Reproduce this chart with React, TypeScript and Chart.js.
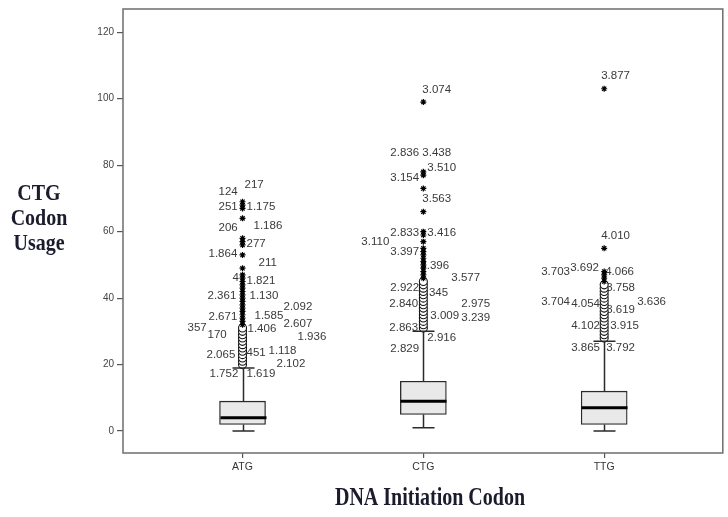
import React, { useEffect, useRef } from 'react';
import { Chart, registerables } from 'chart.js';

Chart.register(...registerables);

// ---- data ----
const categories = ['ATG', 'CTG', 'TTG'];
const categoryPositions = [1, 2, 3];
const yTicks = [0, 20, 40, 60, 80, 100, 120];

const lowerWhisker = [0, 1, 0];
const q1 = [2, 5, 2];
const median = [4, 9, 7];
const q3 = [9, 15, 12];
const upperWhisker = [19, 30, 27];

// mild outliers (circles) and extreme values (stars)
const atgOutliers = [20, 21, 22, 23, 24, 25, 26, 27, 28, 29, 30, 31];
const atgExtremes = [32, 33, 34, 35, 36, 37, 38, 39, 40, 41, 42, 43, 44, 45, 46, 47, 49, 53, 56, 57, 58, 64, 67, 68, 69];
const ctgOutliers = [31, 32, 33, 34, 35, 36, 37, 38, 39, 40, 41, 42, 43, 44, 45];
const ctgExtremes = [46, 47, 48, 49, 50, 51, 52, 53, 54, 55, 57, 59, 60, 66, 73, 77, 78, 99];
const ttgOutliers = [28, 29, 30, 31, 32, 33, 34, 35, 36, 37, 38, 39, 40, 41, 42, 43, 44];
const ttgExtremes = [45, 46, 47, 48, 55, 103];

// case-number labels beside the outliers
const atgLabelText = ['124', '217', '251', '1.175', '206', '1.186', '277', '1.864', '211', '4', '1.821', '2.361', '1.130', '2.092', '2.671', '1.585', '357', '2.607', '170', '1.406', '1.936', '2.065', '451', '1.118', '2.102', '1.752', '1.619'];
const atgLabelValue = [71.9, 74.0, 67.4, 67.4, 61.1, 61.7, 56.2, 53.2, 50.5, 46.0, 45.1, 40.6, 40.6, 37.3, 34.3, 34.6, 31.0, 32.2, 28.9, 30.7, 28.3, 22.9, 23.5, 24.1, 20.2, 17.1, 17.1];
const ctgLabelText = ['3.074', '2.836', '3.438', '3.510', '3.154', '3.563', '2.833', '3.416', '3.110', '3.397', '3.396', '3.577', '2.922', '3.345', '2.840', '2.975', '3.009', '3.239', '2.863', '2.916', '2.829'];
const ctgLabelValue = [102.6, 83.6, 83.6, 79.1, 76.1, 69.8, 59.8, 59.8, 56.8, 53.8, 49.6, 46.0, 43.0, 41.5, 38.2, 38.2, 34.6, 34.0, 31.0, 28.0, 24.7];
const ttgLabelText = ['3.877', '4.010', '3.703', '3.692', '4.066', '3.758', '3.704', '4.054', '3.636', '3.619', '4.102', '3.915', '3.865', '3.792'];
const ttgLabelValue = [106.8, 58.6, 47.8, 49.0, 47.8, 43.0, 38.8, 38.2, 38.8, 36.4, 31.6, 31.6, 25.0, 25.0];

// ---- layout (horizontal label offsets in px from the box centre) ----
const atgLabelDx = [-24, 2, -24, 4, -24, 11, 4, -34, 16, -10, 4, -35, 7, 41, -34, 12, -55, 41, -35, 5, 55, -36, 4, 26, 34, -33, 4];
const ctgLabelDx = [-1, -33, -1, 4, -33, -1, -33, 4, -62, -33, -3, 28, -33, -4, -34, 38, 7, 38, -34, 4, -33];
const ttgLabelDx = [-3, -3, -63, -34, 1, 2, -63, -33, 33, 2, -33, 6, -33, 2];

const labelGroups = [
  { text: atgLabelText, value: atgLabelValue, dx: atgLabelDx },
  { text: ctgLabelText, value: ctgLabelValue, dx: ctgLabelDx },
  { text: ttgLabelText, value: ttgLabelValue, dx: ttgLabelDx },
];

const outlierGroups = [atgOutliers, ctgOutliers, ttgOutliers];
const extremeGroups = [atgExtremes, ctgExtremes, ttgExtremes];

const BOX_WIDTH = 46;
const CAP_WIDTH = 22;

function drawStretchedText(ctx: CanvasRenderingContext2D, text: string, x: number, baseline: number, sy: number) {
  ctx.save();
  ctx.translate(x, baseline);
  ctx.scale(1, sy);
  ctx.fillText(text, 0, 0);
  ctx.restore();
}

const boxDecor = {
  id: 'boxDecor',
  beforeDatasetsDraw(chart: any) {
    const { ctx, scales } = chart;
    const x = scales.x;
    const y = scales.y;
    ctx.save();
    ctx.font = '11.5px "Liberation Sans", Arial, sans-serif';
    ctx.fillStyle = '#3a3a3a';
    ctx.textAlign = 'left';
    ctx.textBaseline = 'middle';
    labelGroups.forEach((g, i) => {
      const cx = x.getPixelForValue(categoryPositions[i]);
      g.text.forEach((t, j) => {
        ctx.fillText(t, cx + g.dx[j], y.getPixelForValue(g.value[j]));
      });
    });
    ctx.restore();
  },
  afterDatasetsDraw(chart: any) {
    const { ctx, scales } = chart;
    const x = scales.x;
    const y = scales.y;
    ctx.save();
    categoryPositions.forEach((p, i) => {
      const cx = Math.round(x.getPixelForValue(p)) + 0.5;
      const yq1 = y.getPixelForValue(q1[i]);
      const yq3 = y.getPixelForValue(q3[i]);
      const ylo = y.getPixelForValue(lowerWhisker[i]);
      const yhi = y.getPixelForValue(upperWhisker[i]);
      const ymed = y.getPixelForValue(median[i]);
      ctx.strokeStyle = '#2a2a2a';
      ctx.lineWidth = 1.5;
      ctx.beginPath();
      ctx.moveTo(cx, yq3);
      ctx.lineTo(cx, yhi);
      ctx.moveTo(cx, yq1);
      ctx.lineTo(cx, ylo);
      ctx.moveTo(cx - CAP_WIDTH / 2, yhi);
      ctx.lineTo(cx + CAP_WIDTH / 2, yhi);
      ctx.moveTo(cx - CAP_WIDTH / 2, ylo);
      ctx.lineTo(cx + CAP_WIDTH / 2, ylo);
      ctx.stroke();
      ctx.strokeStyle = '#000';
      ctx.lineWidth = 3;
      ctx.beginPath();
      ctx.moveTo(cx - BOX_WIDTH / 2, ymed);
      ctx.lineTo(cx + BOX_WIDTH / 2, ymed);
      ctx.stroke();
    });
    ctx.restore();
  },
  afterDraw(chart: any) {
    const { ctx, chartArea } = chart;
    ctx.save();
    ctx.strokeStyle = '#6e6e6e';
    ctx.lineWidth = 1.5;
    ctx.strokeRect(chartArea.left, chartArea.top, chartArea.right - chartArea.left, chartArea.bottom - chartArea.top);

    ctx.fillStyle = '#1b1b2e';
    ctx.textAlign = 'center';
    ctx.textBaseline = 'alphabetic';
    ctx.font = 'bold 20px "Liberation Serif", "Times New Roman", serif';
    drawStretchedText(ctx, 'CTG', 39, 200, 1.12);
    drawStretchedText(ctx, 'Codon', 39, 225, 1.12);
    drawStretchedText(ctx, 'Usage', 39, 250, 1.12);
    ctx.font = 'bold 20px "Liberation Serif", "Times New Roman", serif';
    drawStretchedText(ctx, 'DNA Initiation Codon', 430, 505, 1.25);
    ctx.restore();
  },
};

export default function App() {
  const canvasRef = useRef<HTMLCanvasElement | null>(null);

  useEffect(() => {
    const canvas = canvasRef.current;
    if (!canvas) return;

    const circlePoints: { x: number; y: number }[] = [];
    const starPoints: { x: number; y: number }[] = [];
    categoryPositions.forEach((p, i) => {
      outlierGroups[i].forEach((v) => circlePoints.push({ x: p, y: v }));
      extremeGroups[i].forEach((v) => starPoints.push({ x: p, y: v }));
    });

    const chart = new Chart(canvas, {
      type: 'scatter',
      data: {
        datasets: [
          {
            type: 'scatter',
            data: starPoints,
            pointStyle: 'star',
            pointRadius: 3,
            borderColor: '#000',
            backgroundColor: '#000',
            borderWidth: 1.2,
          },
          {
            type: 'scatter',
            data: circlePoints,
            pointStyle: 'circle',
            pointRadius: 4,
            borderColor: '#111',
            backgroundColor: '#ffffff',
            borderWidth: 1.1,
          },
          {
            type: 'bar',
            data: categoryPositions.map((p, i) => ({ x: p, y: [q1[i], q3[i]] })) as any,
            backgroundColor: '#e9e9e9',
            borderColor: '#2a2a2a',
            borderWidth: 1.3,
            borderSkipped: false,
            barThickness: BOX_WIDTH,
            grouped: false,
          } as any,
        ],
      },
      options: {
        animation: false,
        responsive: false,
        devicePixelRatio: 1,
        events: [],
        layout: { padding: { left: 0, right: 3, top: 9, bottom: 0 } },
        plugins: {
          legend: { display: false },
          tooltip: { enabled: false },
        },
        scales: {
          x: {
            type: 'linear',
            min: 0.339,
            max: 3.656,
            offset: false,
            afterBuildTicks: (s: any) => {
              s.ticks = categoryPositions.map((v) => ({ value: v }));
            },
            afterFit: (s: any) => {
              s.height = 64;
            },
            border: { display: false },
            grid: { offset: false, drawOnChartArea: false, drawTicks: true, tickLength: 5, color: '#555', lineWidth: 1.2 },
            ticks: {
              autoSkip: false,
              maxRotation: 0,
              padding: 3,
              color: '#333',
              font: { family: '"Liberation Sans", Arial, sans-serif', size: 10.5 },
              callback: (_v: any, idx: number) => categories[idx],
            },
          },
          y: {
            type: 'linear',
            min: -6.6,
            max: 127,
            afterBuildTicks: (s: any) => {
              s.ticks = yTicks.map((v) => ({ value: v }));
            },
            afterFit: (s: any) => {
              s.width = 123;
            },
            border: { display: false },
            grid: { drawOnChartArea: false, drawTicks: true, tickLength: 6, color: '#555', lineWidth: 1.2 },
            ticks: {
              padding: 3,
              color: '#444',
              font: { family: '"Liberation Sans", Arial, sans-serif', size: 10 },
            },
          },
        },
      },
      plugins: [boxDecor],
    });

    return () => chart.destroy();
  }, []);

  return (
    <div style={{ position: 'absolute', left: 0, top: 0, width: 728, height: 517, background: '#fff' }}>
      <canvas ref={canvasRef} width={728} height={517} style={{ display: 'block', width: 728, height: 517 }} />
    </div>
  );
}
